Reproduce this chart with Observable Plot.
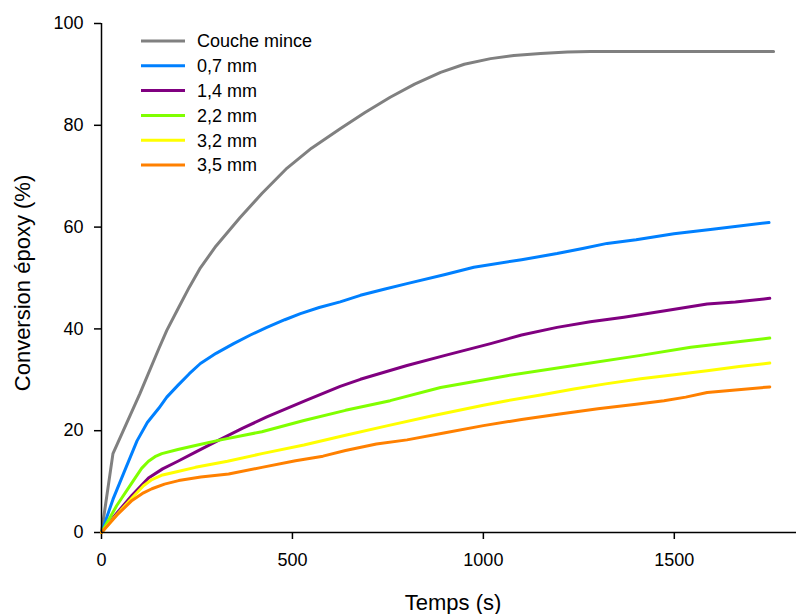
<!DOCTYPE html>
<html>
<head>
<meta charset="utf-8">
<script src="https://cdn.jsdelivr.net/npm/d3@7"></script>
<script src="https://cdn.jsdelivr.net/npm/@observablehq/plot@0.6"></script>
<style>
  body { margin: 0; background: #fff; }
  #chart { position: relative; width: 796px; height: 614px; }
</style>
</head>
<body>
<div id="chart"></div>
<script>
// Series names and colours
const seriesNames = ["Couche mince", "0,7 mm", "1,4 mm", "2,2 mm", "3,2 mm", "3,5 mm"];
const seriesColors = ["#808080", "#0080ff", "#800080", "#80ff00", "#ffff00", "#ff8000"];

// Couche mince
const tMince = [0, 30, 100, 150, 171, 200, 230, 259, 300, 363, 420, 486, 550, 625, 690, 756, 820, 888, 950, 1019, 1080, 1150, 1220, 1280, 1400, 1550, 1760];
const vMince = [0, 15.5, 27.2, 36.1, 39.7, 43.9, 48.2, 52.0, 56.3, 61.9, 66.6, 71.6, 75.5, 79.3, 82.5, 85.5, 88.1, 90.4, 92.0, 93.1, 93.7, 94.1, 94.4, 94.5, 94.5, 94.5, 94.5];

// 0,7 mm
const t07 = [0, 30, 60, 93, 120, 150, 171, 200, 230, 259, 300, 346, 390, 433, 480, 521, 570, 625, 678, 740, 800, 900, 975, 1100, 1193, 1260, 1324, 1400, 1499, 1600, 1748];
const v07 = [0, 6.5, 12, 18, 21.6, 24.4, 26.6, 28.9, 31.2, 33.2, 35.2, 37.1, 38.8, 40.3, 41.8, 43.0, 44.2, 45.3, 46.6, 47.8, 48.9, 50.7, 52.1, 53.6, 54.8, 55.8, 56.8, 57.5, 58.7, 59.6, 60.9];

// 1,4 mm
const t14 = [0, 40, 80, 123, 160, 200, 246, 306, 370, 433, 534, 625, 678, 800, 900, 1019, 1100, 1193, 1280, 1368, 1480, 1586, 1660, 1750];
const v14 = [0, 3.8, 7.3, 10.7, 12.5, 14, 15.8, 18.1, 20.5, 22.7, 25.9, 28.7, 30.1, 32.8, 34.8, 37.1, 38.8, 40.3, 41.4, 42.3, 43.6, 44.9, 45.3, 46];

// 2,2 mm
const t22 = [0, 40, 80, 105, 123, 140, 158, 200, 246, 306, 420, 530, 639, 756, 888, 1062, 1237, 1412, 1543, 1750];
const v22 = [0, 5.3, 9.8, 12.6, 14.0, 14.9, 15.5, 16.3, 17.1, 18.1, 19.8, 22, 24, 25.9, 28.5, 30.8, 32.8, 34.8, 36.4, 38.2];

// 3,2 mm
const t32 = [0, 40, 80, 110, 132, 160, 200, 246, 330, 420, 530, 639, 750, 870, 1000, 1062, 1150, 1237, 1320, 1412, 1500, 1586, 1670, 1750];
const v32 = [0, 3.5, 6.8, 9.2, 10.4, 11.3, 12, 12.8, 14, 15.5, 17.2, 19.1, 21, 23, 25, 25.9, 27, 28.2, 29.2, 30.2, 31, 31.8, 32.6, 33.3];

// 3,5 mm
const t35 = [0, 40, 80, 110, 132, 165, 202, 260, 333, 420, 508, 580, 639, 720, 800, 900, 1000, 1100, 1200, 1300, 1400, 1473, 1530, 1586, 1660, 1750];
const v35 = [0, 3.4, 6.3, 7.8, 8.6, 9.5, 10.2, 10.9, 11.5, 12.8, 14.1, 15.0, 16.1, 17.4, 18.2, 19.6, 21, 22.2, 23.3, 24.3, 25.2, 25.9, 26.6, 27.5, 28, 28.6];

const xTicks = [0, 500, 1000, 1500];
const yTicks = [0, 20, 40, 60, 80, 100];
const xLabel = "Temps (s)";
const yLabel = "Conversion époxy (%)";

const times = [tMince, t07, t14, t22, t32, t35];
const values = [vMince, v07, v14, v22, v32, v35];
const rows = [];
seriesNames.forEach((name, i) => {
  times[i].forEach((t, j) => rows.push({series: name, t, v: values[i][j]}));
});

const font = "'Liberation Sans', Arial, Helvetica, sans-serif";

const plot = Plot.plot({
  width: 796,
  height: 614,
  marginLeft: 101,
  marginRight: 0,
  marginTop: 23,
  marginBottom: 82,
  style: {fontFamily: font, fontSize: "18px", color: "#000", background: "#fff"},
  x: {domain: [0, 1820]},
  y: {domain: [0, 100]},
  color: {domain: seriesNames, range: seriesColors},
  marks: [
    Plot.axisX({ticks: xTicks, tickFormat: d => String(d), tickSize: 7, tickPadding: 14, label: null, fontSize: 18, strokeWidth: 1.5}),
    Plot.axisY({ticks: yTicks, tickFormat: d => String(d), tickSize: 7, tickPadding: 11, label: null, fontSize: 18, strokeWidth: 1.5}),
    Plot.line(rows, {x: "t", y: "v", z: "series", stroke: "series", strokeWidth: 3, curve: "linear", strokeLinejoin: "round"}),
    Plot.ruleY([0], {stroke: "#000", strokeWidth: 1.5}),
    Plot.ruleX([0], {stroke: "#000", strokeWidth: 1.5}),
    Plot.text([xLabel], {frameAnchor: "bottom", dx: 4, dy: 70, fontSize: 22, lineAnchor: "middle", textAnchor: "middle"}),
    Plot.text([yLabel], {frameAnchor: "left", dx: -79, dy: 5, rotate: -90, fontSize: 22, lineAnchor: "middle", textAnchor: "middle"})
  ]
});

document.getElementById("chart").appendChild(plot);

// Legend (inside the SVG, top-left of plot area)
const svg = d3.select(plot);
const lg = svg.append("g").attr("font-family", font).attr("font-size", 18).attr("text-anchor", "start");
seriesNames.forEach((name, i) => {
  const cy = 41 + i * 24.8;
  lg.append("line").attr("x1", 141).attr("x2", 185).attr("y1", cy).attr("y2", cy)
    .attr("stroke", seriesColors[i]).attr("stroke-width", 3);
  lg.append("text").attr("x", 197).attr("y", cy).attr("dy", "0.35em").attr("fill", "#000")
    .attr("text-anchor", "start").text(name);
});
</script>
</body>
</html>
